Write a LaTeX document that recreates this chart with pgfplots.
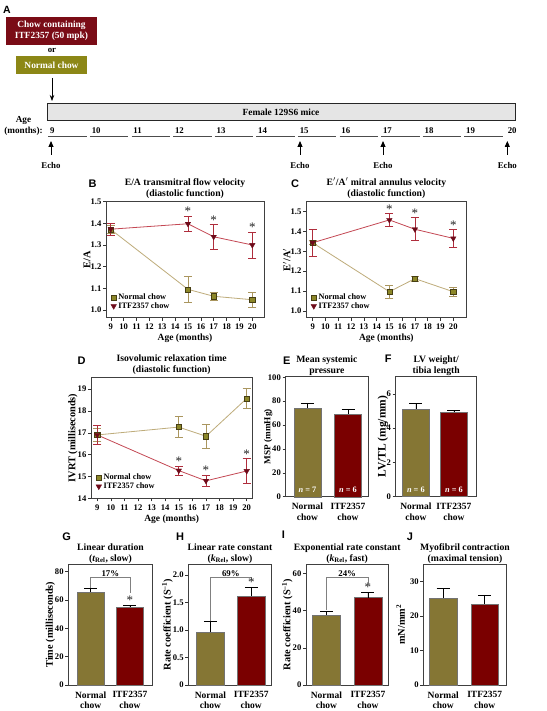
\documentclass[border=0pt]{standalone}
\usepackage{fontspec}
\setmainfont{Liberation Serif}
\newfontfamily\lettfont{Liberation Sans}
\usepackage{pgfplots}
\pgfplotsset{compat=1.18}
\usetikzlibrary{arrows.meta}

\definecolor{boxred}{RGB}{122,12,22}
\definecolor{boxolive}{RGB}{140,135,22}
\definecolor{barolive}{RGB}{133,118,52}
\definecolor{barred}{RGB}{122,0,0}
\definecolor{nline}{RGB}{190,172,122}
\definecolor{nerr}{RGB}{170,150,95}
\definecolor{nmark}{RGB}{140,135,40}
\definecolor{nmarkd}{RGB}{70,62,20}
\definecolor{iline}{RGB}{196,72,84}
\definecolor{ierr}{RGB}{175,45,60}
\definecolor{imark}{RGB}{110,10,25}

\newcommand{\ttl}{\bfseries\fontsize{9.7}{10.8}\selectfont}
\newcommand{\tck}{\bfseries\fontsize{8.6}{9}\selectfont}
\newcommand{\ylb}{\bfseries\fontsize{10.3}{11}\selectfont}

\tikzset{
  pct/.style={anchor=south, inner sep=1pt, font=\bfseries\fontsize{8.8}{9}\selectfont},
  nlab/.style={anchor=south, yshift=3pt, inner sep=1pt, text=white, font=\bfseries\fontsize{8.3}{9}\selectfont}
}

\pgfplotsset{
  base/.style={scale only axis, anchor=north west, clip=false,
    axis line style={black!75, line width=0.6pt},
    tick align=outside, tick pos=left, major tick length=3pt,
    tick style={black!80, line width=0.5pt},
    /pgf/number format/assume math mode=true,
    ticklabel style={font=\tck},
    yticklabel style={inner sep=1.5pt},
    xlabel style={font=\bfseries\fontsize{9.5}{10}\selectfont},
    ylabel style={font=\ylb},
    ylabel shift=-5pt,
    title style={font=\ttl, align=center, yshift=-6pt}},
  linech/.style={base, xtick={9,...,20}, xlabel={Age (months)},
    xlabel style={yshift=3pt},
    legend cell align=left,
    legend style={draw=none, fill=none, font=\bfseries\fontsize{8.3}{9}\selectfont,
      row sep=-2.5pt, inner sep=0pt, at={(0.03,0.05)}, anchor=south west},
    yticklabel style={/pgf/number format/.cd, fixed, fixed zerofill, precision=1}},
  nser/.style={nline, line width=0.8pt, mark=square*, mark size=2.6pt,
    mark options={fill=nmark, draw=nmarkd, line width=0.4pt},
    forget plot,
    error bars/y dir=both, error bars/y explicit,
    error bars/error bar style={nerr, line width=0.6pt},
    error bars/error mark options={rotate=90, mark size=4pt, nerr, line width=0.6pt}},
  iser/.style={iline, line width=0.8pt, mark=triangle*, mark size=3.2pt,
    mark options={fill=imark, draw=imark, rotate=180, line width=0.3pt},
    forget plot,
    error bars/y dir=both, error bars/y explicit,
    error bars/error bar style={ierr, line width=0.6pt},
    error bars/error mark options={rotate=90, mark size=4pt, ierr, line width=0.6pt}},
  stars/.style={draw=none, mark=none, forget plot, point meta=explicit symbolic,
    nodes near coords,
    every node near coord/.style={anchor=south, inner sep=0.3pt,
      font=\fontsize{13}{13}\selectfont, text=black!85}},
  barch/.style={base, ymin=0, xtick={1,2},
    xticklabels={Normal\\chow, ITF2357\\chow},
    xticklabel style={align=center, font=\bfseries\fontsize{9.5}{10.6}\selectfont},
    xtick style={draw=none},
    title style={yshift=-2.5pt}},
  bn/.style={ybar, bar shift=0pt, bar width=0.67, fill=barolive, draw=black!55, line width=0.4pt,
    forget plot,
    error bars/y dir=plus, error bars/y explicit,
    error bars/error bar style={black, line width=0.6pt},
    error bars/error mark options={rotate=90, mark size=6.5pt, black, line width=0.6pt}},
  bi/.style={bn, fill=barred},
  brk/.style={gray, line width=0.7pt, mark=none, forget plot}
}

\begin{document}
\begin{tikzpicture}
\fill[white] (0pt,0pt) rectangle (546pt,-711pt);

% ---------------- Panel A ----------------
\node[font=\lettfont\bfseries\fontsize{10.5}{11}\selectfont] at (7pt,-10pt) {A};
\node[fill=boxred, minimum width=91pt, minimum height=28pt, inner sep=0pt, text=white,
      align=center, font=\bfseries\fontsize{9.4}{10.8}\selectfont] at (51.5pt,-31pt) {Chow containing\\ITF2357 (50 mpk)};
\node[font=\bfseries\fontsize{8.8}{9}\selectfont] at (52pt,-50.5pt) {or};
\node[fill=boxolive, minimum width=71pt, minimum height=18pt, inner sep=0pt, text=white,
      font=\bfseries\fontsize{9.4}{10}\selectfont] at (51.5pt,-65pt) {Normal chow};
\draw[-{Stealth[length=6pt,width=4.5pt]}, line width=0.7pt] (52pt,-78pt) -- (52pt,-101pt);
\draw[fill=gray!20, draw=black!85, line width=0.6pt] (47.7pt,-103.3pt) rectangle (515pt,-120.7pt);
\node[font=\bfseries\fontsize{9.4}{10}\selectfont] at (281pt,-112pt) {Female 129S6 mice};
\node[align=center, font=\bfseries\fontsize{9.2}{11.5}\selectfont] at (23.5pt,-126pt) {Age\\(months):};
\foreach \m [count=\i from 0] in {9,...,20}
  \node[anchor=west, inner sep=0pt, font=\bfseries\fontsize{8.8}{9}\selectfont] at (50pt+41.6pt*\i,-131pt) {\m};
\foreach \i in {0,...,10}
  \draw[line width=0.8pt, black!70] (48.3pt+41.6pt*\i,-136.7pt) -- (86.7pt+41.6pt*\i,-136.7pt);
\foreach \x in {51,300,383,507.3}{
  \draw[-{Triangle[length=6pt,width=5pt]}, line width=0.9pt] (\x pt,-155pt) -- (\x pt,-141pt);
  \node[font=\bfseries\fontsize{8.8}{9}\selectfont] at (\x pt,-165pt) {Echo};
}

% ---------------- Panel letters ----------------
\foreach \l/\x/\y in {B/92.7/184, C/295/183.3, D/81.7/360.7, E/286.7/360.7, F/388.3/359,
                      G/66.7/536.7, H/180/536.7, I/283.3/535, J/410/536.7}
  \node[font=\lettfont\bfseries\fontsize{11}{11}\selectfont] at (\x pt,-\y pt) {\l};

% ---------------- Panel B ----------------
\begin{axis}[linech, at={(106pt,-201.7pt)}, width=158pt, height=116pt,
  xmin=8.63, xmax=20.91, ymin=0.964, ymax=1.5, ytick={1.0,1.1,...,1.5},
  ylabel={E/A}, title={E/A transmitral flow velocity\\(diastolic function)}]
\addplot[nser] coordinates {(9,1.372) +- (0,0.02) (15,1.095) +- (0,0.058) (17,1.063) +- (0,0.017) (20,1.047) +- (0,0.034)};
\addplot[iser] coordinates {(9,1.373) +- (0,0.027) (15,1.398) +- (0,0.034) (17,1.338) +- (0,0.056) (20,1.300) +- (0,0.060)};
\addplot[stars] coordinates {(15,1.432) [*] (17,1.394) [*] (20,1.360) [*]};
\addlegendimage{only marks, mark=square*, mark size=2.6pt, mark options={fill=nmark, draw=nmarkd, line width=0.4pt}}
\addlegendentry{Normal chow}
\addlegendimage{only marks, mark=triangle*, mark size=3.2pt, mark options={fill=imark, draw=imark, rotate=180}}
\addlegendentry{ITF2357 chow}
\end{axis}

% ---------------- Panel C ----------------
\begin{axis}[linech, at={(306pt,-201.7pt)}, width=160.7pt, height=116pt,
  xmin=8.48, xmax=21.05, ymin=0.965, ymax=1.55, ytick={1.0,1.1,...,1.5},
  ylabel={E$'$/A$'$}, ylabel shift=-5pt,
  title={E$'$/A$'$ mitral annulus velocity\\(diastolic function)}]
\addplot[nser] coordinates {(9,1.343) +- (0,0.01) (15,1.096) +- (0,0.034) (17,1.162) +- (0,0.013) (20,1.096) +- (0,0.022)};
\addplot[iser] coordinates {(9,1.343) +- (0,0.067) (15,1.458) +- (0,0.031) (17,1.411) +- (0,0.058) (20,1.365) +- (0,0.044)};
\addplot[stars] coordinates {(15,1.489) [*] (17,1.469) [*] (20,1.409) [*]};
\addlegendimage{only marks, mark=square*, mark size=2.6pt, mark options={fill=nmark, draw=nmarkd, line width=0.4pt}}
\addlegendentry{Normal chow}
\addlegendimage{only marks, mark=triangle*, mark size=3.2pt, mark options={fill=imark, draw=imark, rotate=180}}
\addlegendentry{ITF2357 chow}
\end{axis}

% ---------------- Panel D ----------------
\begin{axis}[linech, at={(91pt,-377.7pt)}, width=161.3pt, height=120.6pt,
  xmin=8.54, xmax=20.41, ymin=14, ymax=19.52, ytick={14,...,19},
  yticklabel style={/pgf/number format/.cd, fixed, precision=0},
  ylabel={IVRT (milliseconds)},
  title={Isovolumic relaxation time\\(diastolic function)}]
\addplot[nser] coordinates {(9,16.90) +- (0,0.3) (15,17.26) +- (0,0.49) (17,16.84) +- (0,0.56) (20,18.57) +- (0,0.46)};
\addplot[iser] coordinates {(9,16.90) +- (0,0.45) (15,15.27) +- (0,0.20) (17,14.80) +- (0,0.27) (20,15.25) +- (0,0.57)};
\addplot[stars] coordinates {(15,15.47) [*] (17,15.07) [*] (20,15.82) [*]};
\addlegendimage{only marks, mark=square*, mark size=2.6pt, mark options={fill=nmark, draw=nmarkd, line width=0.4pt}}
\addlegendentry{Normal chow}
\addlegendimage{only marks, mark=triangle*, mark size=3.2pt, mark options={fill=imark, draw=imark, rotate=180}}
\addlegendentry{ITF2357 chow}
\end{axis}

% ---------------- Panel E ----------------
\begin{axis}[barch, at={(285.5pt,-376.7pt)}, width=82.8pt, height=120pt,
  xmin=0.46, xmax=2.5, ymax=100.5, ytick={0,20,...,100},
  ylabel={MSP (mmHg)}, ylabel style={font=\bfseries\fontsize{9.2}{10}\selectfont}, ylabel shift=-9.5pt,
  title={Mean systemic\\pressure}]
\addplot[bn] coordinates {(1,74.1) +- (0,4.4)};
\addplot[bi] coordinates {(2,69.3) +- (0,4.0)};
\node[nlab] at (axis cs:1,0) {\textit{n} = 7};
\node[nlab] at (axis cs:2,0) {\textit{n} = 6};
\end{axis}

% ---------------- Panel F ----------------
\begin{axis}[barch, at={(395.7pt,-376.7pt)}, width=81pt, height=120pt,
  xmin=0.47, xmax=2.6, ymax=7, ytick={0,2,4,6},
  ylabel={LV/TL (mg/mm)}, ylabel style={font=\bfseries\fontsize{11.5}{12}\selectfont}, ylabel shift=-6.5pt,
  title={LV weight/\\tibia length}]
\addplot[bn, bar width=0.72] coordinates {(1,5.11) +- (0,0.33)};
\addplot[bi, bar width=0.72] coordinates {(2,4.93) +- (0,0.12)};
\node[nlab] at (axis cs:1,0) {\textit{n} = 6};
\node[nlab] at (axis cs:2,0) {\textit{n} = 6};
\end{axis}

% ---------------- Panel G ----------------
\begin{axis}[barch, at={(68.3pt,-564.3pt)}, width=84.4pt, height=120.7pt,
  xmin=0.43, xmax=2.58, ymax=85, ytick={0,20,...,80},
  ylabel={Time (milliseconds)}, title={Linear duration\\(\textit{t}\textsubscript{Rel}, slow)}]
\addplot[bn, bar width=0.68] coordinates {(1,65.7) +- (0,2.3)};
\addplot[bi, bar width=0.68] coordinates {(2,54.7) +- (0,1.6)};
\addplot[brk] coordinates {(1,68.6) (1,75.5) (2,75.5) (2,64.5)};
\addplot[stars] coordinates {(2,56.3) [*]};
\node[pct] at (axis cs:1.5,75.5) {17\%};
\end{axis}

% ---------------- Panel H ----------------
\begin{axis}[barch, at={(188.3pt,-564.3pt)}, width=83.4pt, height=120.7pt,
  xmin=0.46, xmax=2.5, ymax=2.19, ytick={0,0.5,1,1.5,2}, yticklabels={0,0.5,1.0,1.5,2.0},
  ylabel={Rate coefficient (S\textsuperscript{–1})}, title={Linear rate constant\\(\textit{k}\textsubscript{Rel}, slow)}]
\addplot[bn] coordinates {(1,0.96) +- (0,0.19)};
\addplot[bi] coordinates {(2,1.62) +- (0,0.16)};
\addplot[brk] coordinates {(1,1.17) (1,1.951) (2,1.951) (2,1.90)};
\addplot[stars] coordinates {(2,1.776) [*]};
\node[pct] at (axis cs:1.5,1.951) {69\%};
\end{axis}

% ---------------- Panel I ----------------
\begin{axis}[barch, at={(306pt,-564.3pt)}, width=82.3pt, height=120.7pt,
  xmin=0.51, xmax=2.49, ymax=65, ytick={0,20,40,60},
  ylabel={Rate coefficient (S\textsuperscript{–1})}, title={Exponential rate constant\\(\textit{k}\textsubscript{Rel}, fast)}]
\addplot[bn] coordinates {(1,37.6) +- (0,2.1)};
\addplot[bi] coordinates {(2,47.1) +- (0,2.8)};
\addplot[brk] coordinates {(1,40.3) (1,57.8) (2,57.8) (2,54.5)};
\addplot[stars] coordinates {(2,49.9) [*]};
\node[pct] at (axis cs:1.5,57.8) {24\%};
\end{axis}

% ---------------- Panel J ----------------
\begin{axis}[barch, at={(423.3pt,-564.3pt)}, width=83.4pt, height=120.7pt,
  xmin=0.52, xmax=2.53, ymax=35, ytick={0,10,20,30},
  ylabel={mN/mm\textsuperscript{2}}, ylabel shift=0pt,
  title={Myofibril contraction\\(maximal  tension)}]
\addplot[bn] coordinates {(1,25.3) +- (0,2.7)};
\addplot[bi] coordinates {(2,23.5) +- (0,2.6)};
\end{axis}

\pgfresetboundingbox
\path (0pt,0pt) rectangle (546pt,-711pt);
\end{tikzpicture}
\end{document}
